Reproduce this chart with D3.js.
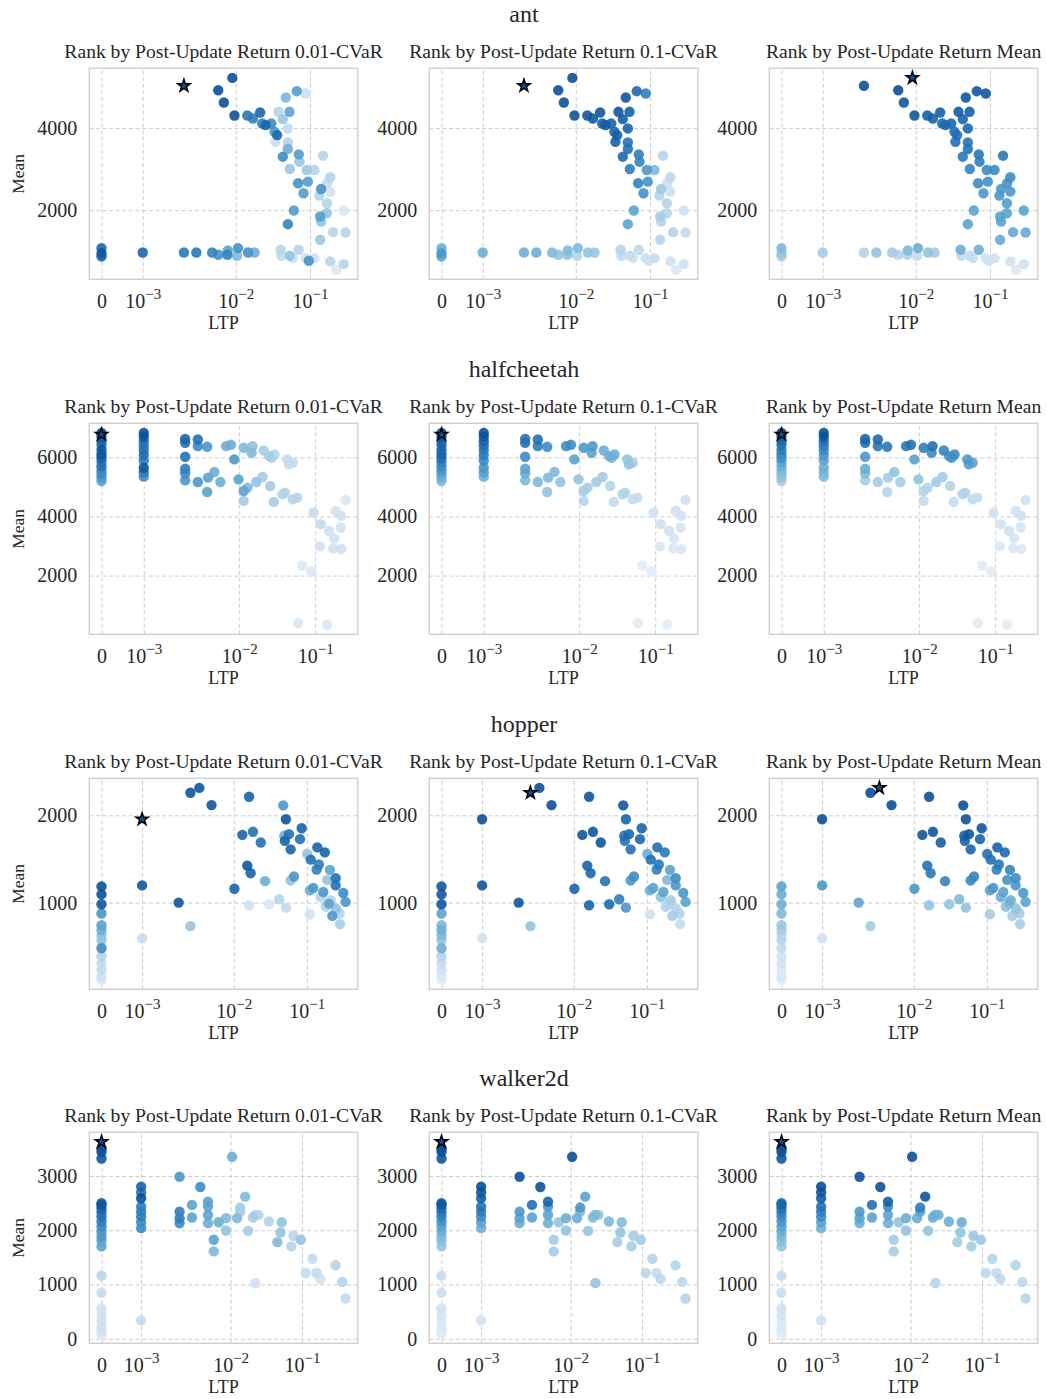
<!DOCTYPE html>
<html>
<head>
<meta charset="utf-8">
<script src="https://cdn.jsdelivr.net/npm/d3@7"></script>
<style>
  body { margin: 0; background: #fff; }
  text { font-family: "Liberation Serif", "DejaVu Serif", serif; }
</style>
</head>
<body>
<svg id="chart" width="1047" height="1399"></svg>
<script>
// ---- data ---------------------------------------------------------------
const envNames = ["ant", "halfcheetah", "hopper", "walker2d"];
const rankTitles = [
  "Rank by Post-Update Return 0.01-CVaR",
  "Rank by Post-Update Return 0.1-CVaR",
  "Rank by Post-Update Return Mean"
];
const xTickValues = [0, 1e-3, 1e-2, 1e-1];
const xTickExponents = [null, -3, -2, -1];
const yTicksByEnv = [[2000, 4000], [2000, 4000, 6000], [1000, 2000], [0, 1000, 2000, 3000]];

// rows: [LTP, mean return, rank score by 0.01-CVaR, by 0.1-CVaR, by post-update mean]
// rank score is the normalised rank (1 = best run of the sweep)
const ant = [
  [0.002,5030,1,1,0.9],[0.009,5223,0.9,0.88,1],[0.0058,4923,0.88,0.88,0.88],
  [0.0069,4624,0.88,0.87,0.85],[0.0096,4308,0.87,0.87,0.85],[0.0143,4308,0.72,0.85,0.82],
  [0.017,4235,0.7,0.83,0.8],[0.0213,4381,0.8,0.85,0.82],[0.0227,4113,0.7,0.82,0.78],
  [0.0252,4073,0.8,0.83,0.78],[0.030,4113,0.65,0.8,0.78],[0.0361,3830,0.78,0.82,0.75],
  [0.0332,3911,0.6,0.8,0.76],[0.0376,4397,0.3,0.85,0.83],[0.0472,4745,0.45,0.85,0.85],
  [0.053,4397,0.55,0.82,0.82],[0.0664,4899,0.58,0.78,0.85],[0.0878,4842,0.22,0.7,0.85],
  [0.043,4219,0.38,0.82,0.8],[0.0503,3992,0.25,0.8,0.78],[0.0342,3668,0.22,0.8,0.75],
  [0.0503,3652,0.3,0.75,0.74],[0.0503,3490,0.5,0.75,0.73],[0.043,3304,0.65,0.78,0.72],
  [0.0706,3360,0.58,0.7,0.72],[0.0721,3182,0.38,0.68,0.7],[0.0535,3004,0.38,0.7,0.68],
  [0.0906,2980,0.38,0.6,0.65],[0.115,2980,0.3,0.45,0.65],[0.150,3328,0.3,0.3,0.72],
  [0.0692,2656,0.62,0.68,0.65],[0.0934,2696,0.58,0.62,0.63],[0.0817,2413,0.58,0.62,0.6],
  [0.141,2518,0.62,0.38,0.6],[0.134,2356,0.3,0.3,0.6],[0.188,2802,0.3,0.28,0.65],
  [0.170,2656,0.25,0.22,0.62],[0.188,2453,0.2,0.22,0.6],[0.169,2170,0.3,0.3,0.58],
  [0.0606,1992,0.58,0.55,0.55],[0.0503,1660,0.68,0.55,0.55],[0.137,1846,0.58,0.35,0.55],
  [0.169,1927,0.4,0.3,0.55],[0.141,1725,0.4,0.3,0.55],[0.137,1279,0.38,0.3,0.52],
  [0.205,1466,0.3,0.3,0.52],[0.285,1992,0.15,0.2,0.55],[0.302,1458,0.3,0.25,0.52],
  [0,1077,0.8,0.5,0.45],[0,955,0.85,0.6,0.4],[0,874,0.82,0.55,0.35],
  [0.001,971,0.78,0.5,0.35],[0.002,971,0.72,0.5,0.3],[0.00294,971,0.72,0.5,0.4],
  [0.0048,971,0.68,0.45,0.35],[0.0058,915,0.62,0.4,0.3],[0.0077,915,0.68,0.4,0.3],
  [0.0078,1020,0.55,0.45,0.45],[0.0107,1077,0.62,0.45,0.5],[0.0104,890,0.45,0.3,0.25],
  [0.0146,971,0.62,0.4,0.4],[0.0179,971,0.5,0.38,0.35],[0.0402,1036,0.3,0.3,0.5],
  [0.041,890,0.25,0.25,0.25],[0.0535,890,0.4,0.25,0.25],[0.059,834,0.2,0.2,0.22],
  [0.0706,1036,0.3,0.28,0.5],[0.0875,834,0.2,0.22,0.2],[0.0964,769,0.62,0.2,0.2],
  [0.115,834,0.2,0.25,0.2],[0.188,753,0.3,0.2,0.2],[0.225,551,0.15,0.15,0.15],
  [0.285,688,0.3,0.2,0.2]
];

const halfcheetah = [
  [0,6780,1,1,1],[0,6830,0.88,0.88,0.88],[0,6700,0.85,0.85,0.82],[0,6560,0.8,0.8,0.78],
  [0,6420,0.75,0.78,0.75],[0,6250,0.85,0.8,0.7],[0,6100,0.85,0.8,0.65],[0,5980,0.8,0.75,0.62],
  [0,5850,0.7,0.7,0.55],[0,5700,0.75,0.65,0.5],[0,5560,0.65,0.6,0.45],[0,5450,0.65,0.55,0.42],
  [0,5320,0.6,0.5,0.4],[0,5200,0.55,0.45,0.35],
  [0.001,6831,0.9,0.88,0.88],[0.001,6700,0.85,0.85,0.85],[0.001,6550,0.75,0.8,0.75],
  [0.001,6400,0.7,0.75,0.7],[0.001,6250,0.75,0.72,0.65],[0.001,6080,0.75,0.7,0.6],
  [0.001,5900,0.7,0.65,0.55],[0.001,5650,0.85,0.6,0.5],[0.001,5500,0.7,0.55,0.45],
  [0.001,5350,0.65,0.5,0.45],
  [0.00198,6629,0.8,0.75,0.8],[0.00198,6494,0.75,0.75,0.75],[0.00198,6022,0.75,0.65,0.6],
  [0.00198,5618,0.7,0.55,0.5],[0.00198,5461,0.65,0.5,0.45],[0.00198,5225,0.6,0.45,0.35],
  [0.00286,6607,0.75,0.75,0.78],[0.00286,6382,0.65,0.7,0.72],[0.0038,6360,0.6,0.65,0.72],
  [0.00286,5169,0.6,0.45,0.35],[0.0038,4831,0.55,0.4,0.3],[0.0039,5315,0.55,0.45,0.35],
  [0.00473,5506,0.5,0.45,0.4],[0.00566,5169,0.5,0.4,0.35],[0.00673,6382,0.5,0.65,0.72],
  [0.0078,6427,0.5,0.65,0.75],[0.00865,5933,0.6,0.55,0.55],[0.0098,5258,0.55,0.4,0.4],
  [0.01146,6326,0.45,0.6,0.7],[0.01146,4865,0.55,0.35,0.3],[0.0129,4978,0.45,0.35,0.3],
  [0.01146,4528,0.35,0.3,0.25],[0.015,6382,0.4,0.6,0.75],[0.0146,6157,0.45,0.55,0.65],
  [0.0168,5169,0.4,0.35,0.35],[0.0203,5337,0.35,0.35,0.35],[0.0211,6236,0.35,0.5,0.68],
  [0.0248,6045,0.35,0.5,0.62],[0.0256,5034,0.35,0.3,0.3],[0.0268,5989,0.3,0.45,0.6],
  [0.0292,6101,0.3,0.5,0.65],[0.0285,4494,0.35,0.25,0.25],[0.0371,4753,0.3,0.3,0.3],
  [0.040,4809,0.3,0.3,0.3],[0.043,5933,0.25,0.4,0.6],[0.045,5764,0.25,0.4,0.58],
  [0.0505,5820,0.25,0.35,0.55],[0.0505,4584,0.3,0.25,0.25],[0.058,4640,0.3,0.25,0.25],
  [0.095,4135,0.25,0.2,0.2],[0.118,3742,0.25,0.2,0.2],[0.152,3517,0.2,0.2,0.2],
  [0.186,4191,0.2,0.2,0.2],[0.220,4022,0.2,0.2,0.2],[0.251,4562,0.15,0.2,0.2],
  [0.216,3629,0.2,0.18,0.18],[0.177,3258,0.2,0.18,0.18],[0.173,2921,0.2,0.15,0.15],
  [0.220,2899,0.2,0.15,0.15],[0.115,2989,0.2,0.15,0.15],[0.0675,2337,0.15,0.12,0.12],
  [0.089,2146,0.15,0.12,0.12],[0.0593,393,0.15,0.12,0.12],[0.144,337,0.15,0.12,0.12]
];

const hopper = [
  [0.001,1955,1,0.88,0.88],[0.001,1197,0.85,0.85,0.6],[0.001,591,0.25,0.2,0.2],
  [0.0019,1000,0.85,0.85,0.55],[0.00255,2258,0.85,1,0.88],[0.00338,2314,0.85,0.88,1],
  [0.00496,2117,0.85,0.88,0.88],[0.00255,731,0.4,0.4,0.35],[0.0162,2212,0.8,0.85,0.88],
  [0.0131,1776,0.8,0.85,0.85],[0.0183,1811,0.75,0.85,0.85],[0.0234,1689,0.75,0.85,0.82],
  [0.0153,1424,0.85,0.8,0.75],[0.0170,1337,0.8,0.78,0.72],[0.0102,1159,0.8,0.8,0.6],
  [0.0268,1246,0.5,0.75,0.68],[0.0162,970,0.2,0.8,0.4],[0.0305,981,0.15,0.78,0.4],
  [0.0418,1038,0.3,0.7,0.45],[0.0517,943,0.25,0.6,0.4],[0.0475,2114,0.6,0.85,0.88],
  [0.0517,1955,0.85,0.8,0.85],[0.057,1784,0.75,0.78,0.85],[0.049,1765,0.5,0.75,0.82],
  [0.050,1708,0.8,0.75,0.8],[0.085,1852,0.8,0.8,0.85],[0.0806,1727,0.75,0.78,0.8],
  [0.060,1610,0.8,0.75,0.8],[0.0667,1299,0.6,0.65,0.68],[0.060,1254,0.4,0.6,0.66],
  [0.1013,1557,0.4,0.5,0.75],[0.139,1633,0.8,0.75,0.8],[0.176,1576,0.8,0.72,0.78],
  [0.113,1492,0.75,0.75,0.75],[0.146,1436,0.7,0.72,0.72],[0.136,1379,0.7,0.7,0.7],
  [0.207,1375,0.55,0.55,0.68],[0.190,1261,0.4,0.45,0.62],[0.248,1280,0.75,0.65,0.65],
  [0.248,1197,0.75,0.6,0.6],[0.122,1167,0.6,0.55,0.6],[0.110,1140,0.5,0.5,0.55],
  [0.168,1121,0.6,0.55,0.55],[0.315,1110,0.65,0.6,0.6],[0.339,1008,0.6,0.55,0.55],
  [0.155,1064,0.3,0.4,0.5],[0.212,1027,0.3,0.35,0.5],[0.182,951,0.3,0.3,0.4],
  [0.200,989,0.55,0.3,0.45],[0.223,848,0.6,0.35,0.35],[0.25,932,0.4,0.3,0.4],
  [0.28,875,0.3,0.3,0.35],[0.285,754,0.35,0.25,0.35],[0.110,867,0.2,0.2,0.35],
  [0,1186,0.9,0.85,0.55],[0,1095,0.9,0.85,0.5],[0,981,0.85,0.85,0.5],[0,875,0.6,0.55,0.45],
  [0,742,0.55,0.45,0.38],[0,686,0.5,0.5,0.35],[0,629,0.4,0.45,0.3],[0,572,0.4,0.4,0.3],
  [0,477,0.65,0.5,0.25],[0,383,0.3,0.3,0.2],[0,307,0.25,0.25,0.2],[0,231,0.25,0.2,0.15],
  [0,155,0.2,0.15,0.15],[0,117,0.15,0.12,0.12]
];

const walker2d = [
  [0,3630,1,1,1],[0,3508,0.9,0.9,0.9],[0,3447,0.9,0.88,0.88],[0,3324,0.85,0.85,0.85],
  [0,2498,0.85,0.85,0.8],[0,2468,0.85,0.8,0.78],[0,2406,0.8,0.78,0.75],[0,2333,0.75,0.72,0.7],
  [0,2253,0.75,0.68,0.65],[0,2162,0.7,0.62,0.6],[0,2070,0.65,0.55,0.55],[0,1978,0.6,0.5,0.5],
  [0,1886,0.6,0.45,0.45],[0,1807,0.55,0.42,0.42],[0,1703,0.55,0.4,0.4],[0,1164,0.3,0.25,0.25],
  [0,846,0.25,0.22,0.22],[0,558,0.2,0.2,0.2],[0,436,0.2,0.18,0.18],[0,326,0.2,0.15,0.15],
  [0,215,0.2,0.15,0.15],[0,142,0.2,0.12,0.12],[0,93,0.15,0.12,0.12],
  [0.001,2804,0.8,0.88,0.88],[0.001,2700,0.75,0.85,0.85],[0.001,2590,0.9,0.82,0.82],
  [0.001,2437,0.7,0.75,0.75],[0.001,2345,0.7,0.7,0.7],[0.001,2253,0.7,0.65,0.65],
  [0.001,2149,0.65,0.55,0.55],[0.001,2039,0.65,0.5,0.5],[0.001,338,0.25,0.2,0.2],
  [0.00197,2988,0.6,0.88,0.88],[0.00197,2345,0.7,0.6,0.6],[0.00197,2223,0.7,0.55,0.55],
  [0.00197,2131,0.65,0.5,0.5],[0.00287,2468,0.55,0.75,0.75],[0.00287,2235,0.55,0.55,0.55],
  [0.00376,2798,0.65,0.88,0.88],[0.00482,2529,0.55,0.8,0.82],[0.00482,2437,0.55,0.6,0.65],
  [0.00482,2284,0.55,0.55,0.55],[0.00482,2131,0.5,0.5,0.5],[0.0058,1825,0.55,0.35,0.35],
  [0.0058,1611,0.45,0.35,0.35],[0.0068,2149,0.5,0.4,0.4],[0.0086,2223,0.45,0.5,0.5],
  [0.0086,1996,0.4,0.4,0.4],[0.0105,3355,0.5,0.88,0.88],[0.0123,2223,0.45,0.5,0.5],
  [0.0136,2419,0.35,0.6,0.7],[0.0136,2345,0.35,0.45,0.55],[0.016,2621,0.45,0.55,0.85],
  [0.0176,1990,0.35,0.4,0.4],[0.0205,2235,0.35,0.45,0.5],[0.022,2284,0.3,0.45,0.5],
  [0.0246,2284,0.3,0.4,0.5],[0.0223,1029,0.2,0.4,0.3],[0.0344,2162,0.3,0.45,0.5],
  [0.0452,1782,0.45,0.35,0.35],[0.050,1960,0.4,0.4,0.4],[0.052,2149,0.4,0.45,0.5],
  [0.071,1703,0.3,0.35,0.35],[0.076,1898,0.3,0.35,0.38],[0.0963,1825,0.4,0.35,0.38],
  [0.113,1213,0.25,0.28,0.28],[0.140,1476,0.25,0.3,0.3],[0.160,1213,0.25,0.25,0.25],
  [0.182,1103,0.2,0.28,0.28],[0.296,1354,0.3,0.3,0.3],[0.367,1048,0.3,0.28,0.28],
  [0.409,742,0.25,0.3,0.3]
];

const envData = [ant, halfcheetah, hopper, walker2d];

// ---- layout ---------------------------------------------------------------
const colLeft = [89.3, 429.3, 769.3];
const rowTop = [68.3, 423.3, 778.3, 1132.3];
const W = 268.5, H = 211;
const ink = "#262626";
const gridColor = "#cccccc";

// symmetric-log transform (linear below the threshold, log10 above)
const LINTHRESH = 0.002;
const LINSCALE = 1 / (1 - 1 / 10);
function symlog(v) {
  const a = Math.abs(v);
  const out = a <= LINTHRESH ? a / LINTHRESH * LINSCALE : LINSCALE + Math.log10(a / LINTHRESH);
  return Math.sign(v) * out;
}

function paddedDomain(values) {
  const [lo, hi] = d3.extent(values);
  const pad = (hi - lo) * 0.05;
  return [lo - pad, hi + pad];
}

const colour = s => d3.interpolateBlues(Math.min(s, 0.88));

const svg = d3.select("#chart");
const starPath = d3.symbol().type(d3.symbolStar).size(48)();

envData.forEach((rows, r) => {
  const top = rowTop[r];

  svg.append("text")
    .attr("x", 524).attr("y", top - 46)
    .attr("text-anchor", "middle")
    .attr("font-size", 24).attr("fill", ink)
    .text(envNames[r]);

  const x = d3.scaleLinear().domain(paddedDomain(rows.map(d => symlog(d[0])))).range([0, W]);
  const y = d3.scaleLinear().domain(paddedDomain(rows.map(d => d[1]))).range([H, 0]);

  rankTitles.forEach((title, c) => {
    const g = svg.append("g").attr("transform", `translate(${colLeft[c]},${top})`);
    const scoreIdx = 2 + c;

    // dashed grid
    g.append("g")
      .attr("transform", `translate(0,${H})`)
      .call(d3.axisBottom(x).tickValues(xTickValues.map(symlog)).tickSize(-H).tickFormat(""))
      .call(s => s.select(".domain").remove())
      .call(s => s.selectAll("line").attr("stroke", gridColor).attr("stroke-dasharray", "4,2.6"));
    g.append("g")
      .call(d3.axisLeft(y).tickValues(yTicksByEnv[r]).tickSize(-W).tickFormat(""))
      .call(s => s.select(".domain").remove())
      .call(s => s.selectAll("line").attr("stroke", gridColor).attr("stroke-dasharray", "4,2.6"));

    // the best run of this ranking is marked with a star
    let best = 0;
    rows.forEach((d, i) => { if (d[scoreIdx] > rows[best][scoreIdx]) best = i; });
    const ordered = rows.filter((d, i) => i !== best)
      .sort((a, b) => a[scoreIdx] - b[scoreIdx]);

    g.append("g").selectAll("circle")
      .data(ordered)
      .join("circle")
      .attr("cx", d => x(symlog(d[0])))
      .attr("cy", d => y(d[1]))
      .attr("r", 5.2)
      .attr("fill", d => colour(d[scoreIdx]))
      .attr("fill-opacity", 0.9);

    const b = rows[best];
    g.append("path")
      .attr("d", starPath)
      .attr("transform", `translate(${x(symlog(b[0]))},${y(b[1])})`)
      .attr("fill", colour(1))
      .attr("stroke", "#000")
      .attr("stroke-width", 1.5);

    // frame
    g.append("rect")
      .attr("width", W).attr("height", H)
      .attr("fill", "none").attr("stroke", gridColor).attr("stroke-width", 1.3);

    // x tick labels
    g.append("g")
      .attr("transform", `translate(0,${H})`)
      .call(d3.axisBottom(x).tickValues(xTickValues.map(symlog)).tickSize(0))
      .call(s => s.select(".domain").remove())
      .attr("font-size", 20).attr("font-family", null).attr("color", ink)
      .call(s => s.selectAll(".tick text").each(function (v, i) {
        const t = d3.select(this).attr("y", 29).attr("dy", null).text(null);
        if (xTickExponents[i] === null) {
          t.text("0");
        } else {
          t.append("tspan").text("10");
          t.append("tspan").attr("dy", -9).attr("font-size", 15)
            .text("\u2212" + Math.abs(xTickExponents[i]));
        }
      }));

    // y tick labels
    g.append("g")
      .call(d3.axisLeft(y).tickValues(yTicksByEnv[r]).tickSize(0).tickPadding(12).tickFormat(d3.format("d")))
      .call(s => s.select(".domain").remove())
      .attr("font-size", 20).attr("font-family", null).attr("color", ink);

    g.append("text")
      .attr("x", W / 2).attr("y", -10)
      .attr("text-anchor", "middle")
      .attr("font-size", 19.6).attr("fill", ink)
      .text(title);

    g.append("text")
      .attr("x", W / 2).attr("y", H + 50)
      .attr("text-anchor", "middle")
      .attr("font-size", 18).attr("fill", ink)
      .text("LTP");

    if (c === 0) {
      g.append("text")
        .attr("transform", `translate(${24 - colLeft[0]},${H / 2}) rotate(-90)`)
        .attr("text-anchor", "middle")
        .attr("font-size", 17.5).attr("fill", ink)
        .text("Mean");
    }
  });
});
</script>
</body>
</html>
